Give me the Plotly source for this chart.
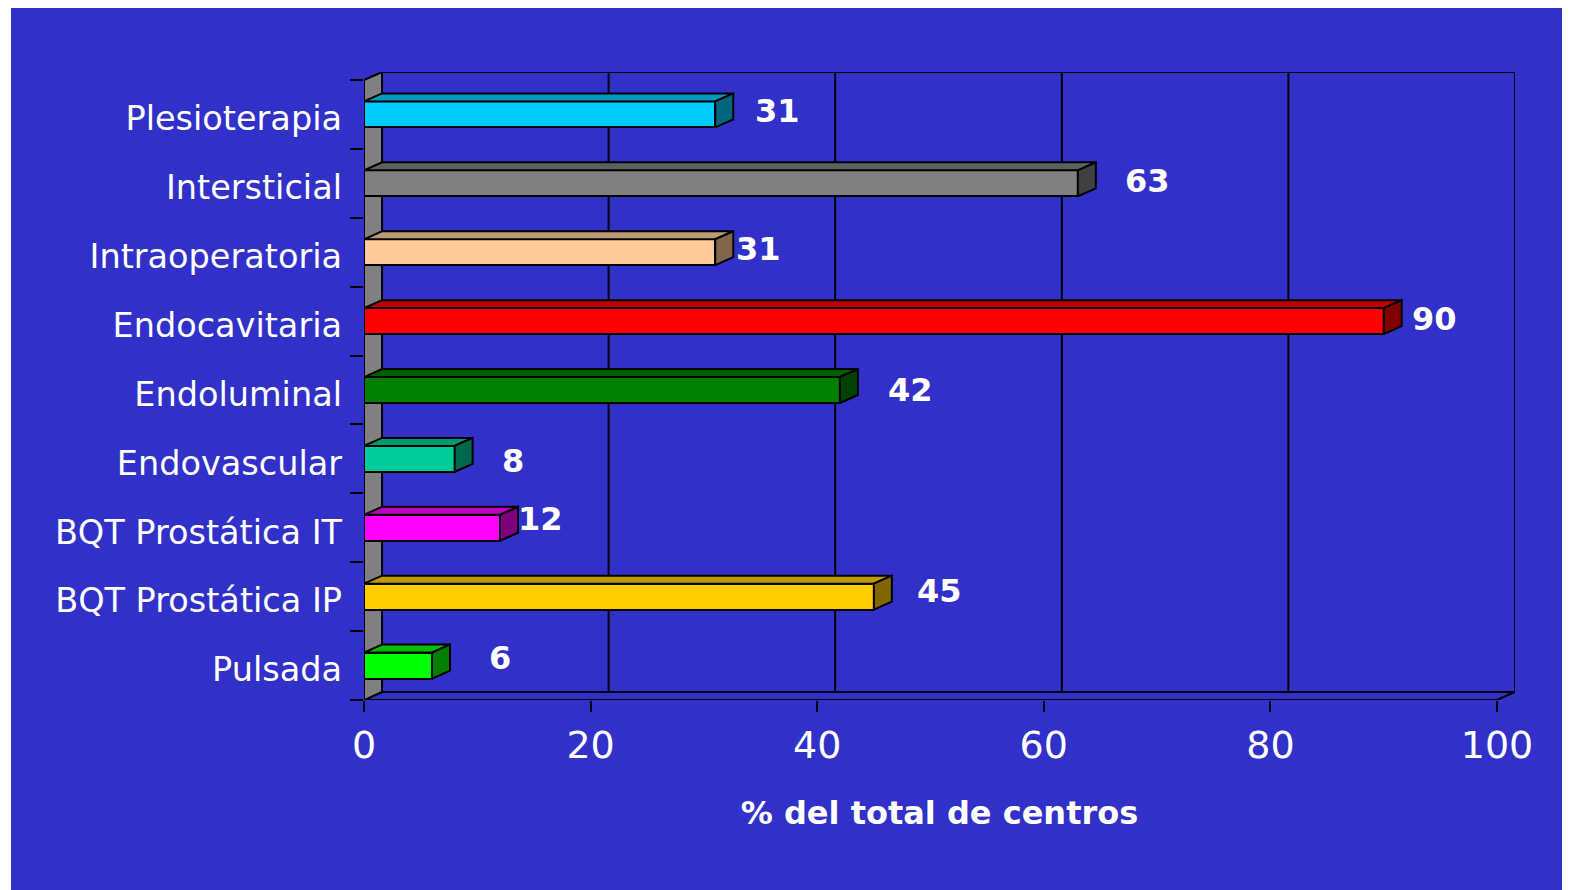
import plotly.graph_objects as go

# ---------------- data ----------------
categories = ["Plesioterapia", "Intersticial", "Intraoperatoria", "Endocavitaria",
              "Endoluminal", "Endovascular", "BQT Prostática IT", "BQT Prostática IP",
              "Pulsada"]
values = [31, 63, 31, 90, 42, 8, 12, 45, 6]
colors = ["#00CCFF", "#808080", "#FFCC99", "#FF0000", "#008000",
          "#00CC99", "#FF00FF", "#FFCC00", "#00FF00"]
x_ticks = [0, 20, 40, 60, 80, 100]
x_title = "% del total de centros"

# label placement tweaks (pixels), separate from the data
label_xshift = [62, 70, 43, 51, 71, 58, 41, 66, 68]
label_yshift = [3, 2, 3, 2, 0, -2, 9, 6, 8]

# ---------------- geometry ----------------
BG = "#3130C8"
W, H = 1562, 882            # page body has an 8px margin
ML, MR, MT, MB = 356, 55, 64, 190
n = len(categories)
XMAX = 100
DX = 1.59          # depth offset in x data units
DY = 0.116         # depth offset in y data units
BW = 0.377         # bar thickness (category units)
h = BW / 2

centers = [n - 0.5 - i for i in range(n)]


def shade(hexcol, f):
    hexcol = hexcol.lstrip("#")
    r, g, b = (int(hexcol[i:i + 2], 16) for i in (0, 2, 4))
    return "#%02X%02X%02X" % (int(r * f), int(g * f), int(b * f))


fig = go.Figure()

# front faces of bars
fig.add_trace(go.Bar(
    x=values, y=centers, orientation="h", width=BW, base=0,
    marker=dict(color=colors, line=dict(color="black", width=2)),
    hoverinfo="skip", showlegend=False,
))

# top and side faces
for v, c, col in zip(values, centers, colors):
    fig.add_trace(go.Scatter(
        x=[0, v, v + DX, DX, 0], y=[c + h, c + h, c + h + DY, c + h + DY, c + h],
        fill="toself", fillcolor=shade(col, 0.75), mode="lines",
        line=dict(color="black", width=2), hoverinfo="skip", showlegend=False))
    fig.add_trace(go.Scatter(
        x=[v, v + DX, v + DX, v, v], y=[c - h, c - h + DY, c + h + DY, c + h, c - h],
        fill="toself", fillcolor=shade(col, 0.5), mode="lines",
        line=dict(color="black", width=2), hoverinfo="skip", showlegend=False))

shapes = []
# blue slide background (paper coords extended beyond plot area)
pw, ph = W - ML - MR, H - MT - MB
shapes.append(dict(type="rect", xref="paper", yref="paper", layer="below",
                   x0=(3 - ML) / pw, x1=(W - ML) / pw + 0.01,
                   y0=(H - MB - H) / ph - 0.01, y1=(H - MB + 10) / ph,
                   fillcolor=BG, line=dict(width=0)))
# back wall
shapes.append(dict(type="rect", xref="x", yref="y", layer="below",
                   x0=DX, x1=XMAX + DX, y0=DY, y1=n + DY,
                   line=dict(color="black", width=2)))
for t in x_ticks[1:-1]:
    shapes.append(dict(type="line", xref="x", yref="y", layer="below",
                       x0=t + DX, x1=t + DX, y0=DY, y1=n + DY,
                       line=dict(color="black", width=2)))
# floor
shapes.append(dict(type="path", xref="x", yref="y", layer="below",
                   path=f"M 0 0 L {XMAX} 0 L {XMAX + DX} {DY} L {DX} {DY} Z",
                   fillcolor=BG, line=dict(color="black", width=2)))
# left wall
shapes.append(dict(type="path", xref="x", yref="y", layer="below",
                   path=f"M 0 0 L {DX} {DY} L {DX} {n + DY} L 0 {n} Z",
                   fillcolor="#808080", line=dict(color="black", width=2)))

annotations = []
for v, c, dxs, dys in zip(values, centers, label_xshift, label_yshift):
    annotations.append(dict(x=v, y=c, xref="x", yref="y", text=str(v),
                            showarrow=False, xanchor="center", yanchor="middle",
                            xshift=dxs, yshift=dys,
                            font=dict(family="DejaVu Sans", size=32, color="white",
                                      weight="bold")))

fig.update_layout(
    width=W, height=H,
    margin=dict(l=ML, r=MR, t=MT, b=MB, pad=0),
    paper_bgcolor="white", plot_bgcolor="rgba(0,0,0,0)",
    font=dict(family="DejaVu Sans", color="white"),
    shapes=shapes, annotations=annotations,
    bargap=0, showlegend=False,
    xaxis=dict(range=[0, XMAX + DX], tickmode="array", tickvals=x_ticks,
               ticktext=[str(t) for t in x_ticks],
               ticks="outside", ticklen=11, tickwidth=2, tickcolor="black",
               tickfont=dict(size=38, color="white"),
               showgrid=False, zeroline=False, showline=False,
               title=dict(text=x_title, standoff=36,
                          font=dict(size=32, color="white", weight="bold"))),
    yaxis=dict(range=[0, n + DY], tickmode="array", tickvals=centers,
               ticktext=categories, ticks="", ticklabelstandoff=21,
               ticklabelshift=4,
               tickfont=dict(size=33.5, color="white"),
               showgrid=False, zeroline=False, showline=False,
               minor=dict(tickmode="array", tickvals=list(range(n + 1)),
                          ticks="outside", ticklen=13, tickwidth=2,
                          tickcolor="black", showgrid=False)),
)

fig.write_html("out.html")
